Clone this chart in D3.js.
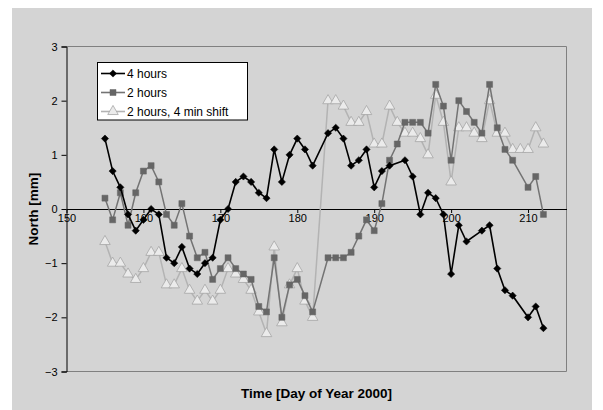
<!DOCTYPE html>
<html>
<head>
<meta charset="utf-8">
<script src="https://cdn.jsdelivr.net/npm/d3@7"></script>
<style>
  html, body { margin: 0; padding: 0; background: #ffffff; }
  svg { display: block; font-family: "Liberation Sans", Arial, sans-serif; }
</style>
</head>
<body>
<svg id="chart" width="603" height="410"></svg>
<script>
// North displacement [mm] per day of year 2000, three processing variants
const days4h = [155,156,157,158,159,160,161,162,163,164,165,166,167,168,169,170,171,172,173,174,175,176,177,178,179,180,181,182,
                184,185,186,187,188,189,190,191,192,194,195,196,197,198,199,200,201,202,204,205,206,207,208,210,211,212];
const north4h = [1.3,0.7,0.4,-0.1,-0.4,-0.2,0.0,-0.1,-0.9,-1.0,-0.7,-1.1,-1.2,-1.0,-0.9,-0.2,0.0,0.5,0.6,0.5,0.3,0.2,1.1,0.5,1.0,1.3,1.1,0.8,
                 1.4,1.5,1.3,0.8,0.9,1.1,0.4,0.7,0.8,0.9,0.6,-0.1,0.3,0.2,-0.1,-1.2,-0.3,-0.6,-0.4,-0.3,-1.1,-1.5,-1.6,-2.0,-1.8,-2.2];

const days2h = [155,156,157,158,159,160,161,162,163,164,165,166,167,168,169,170,171,172,173,174,175,176,177,178,179,180,181,182,
                184,185,186,187,188,189,190,191,192,193,194,195,196,197,198,199,200,201,202,203,204,205,206,207,208,210,211,212];
const north2h = [0.2,-0.2,0.3,-0.3,0.3,0.7,0.8,0.5,-0.1,-0.3,0.1,-0.5,-0.9,-0.8,-1.3,-1.1,-0.9,-1.1,-1.2,-1.3,-1.8,-1.9,-0.9,-2.0,-1.4,-1.3,-1.6,-1.9,
                 -0.9,-0.9,-0.9,-0.8,-0.5,-0.2,-0.4,0.1,0.9,1.2,1.6,1.6,1.6,1.4,2.3,1.9,0.9,2.0,1.8,1.6,1.4,2.3,1.5,1.1,0.9,0.4,0.6,-0.1];

const daysShift = [155,156,157,158,159,160,161,162,163,164,165,166,167,168,169,170,171,172,173,174,175,176,177,178,179,180,181,182,
                   184,185,186,187,188,189,190,191,192,193,194,195,196,197,198,199,200,201,202,203,204,205,206,207,208,209,210,211,212];
const northShift = [-0.6,-1.0,-1.0,-1.2,-1.3,-1.1,-0.8,-0.8,-1.4,-1.4,-1.1,-1.5,-1.7,-1.5,-1.7,-1.5,-1.1,-1.2,-1.3,-1.5,-1.9,-2.3,-0.7,-2.1,-1.4,-1.1,-1.7,-2.0,
                    2.0,2.0,1.9,1.6,1.6,1.8,1.2,1.2,1.9,1.6,1.4,1.4,1.3,1.0,2.1,1.6,0.5,1.5,1.5,1.4,1.3,2.0,1.4,1.4,1.1,1.1,1.1,1.5,1.2];

const seriesNames = ["4 hours", "2 hours", "2 hours, 4 min shift"];
const xTicks = [150,160,170,180,190,200,210];
const yTicks = [-3,-2,-1,0,1,2,3];

const svg = d3.select("#chart");

// chart background
svg.append("rect").attr("x", 12).attr("y", 8).attr("width", 580).attr("height", 402).attr("fill", "#d4d4d4");

const plot = { left: 66.5, right: 566.5, top: 46.5, bottom: 371.5 };
const x = d3.scaleLinear().domain([150, 215]).range([plot.left, plot.right]);
const y = d3.scaleLinear().domain([-3, 3]).range([plot.bottom, plot.top]);

// plot frame (top, right, bottom) in grey
svg.append("path")
  .attr("d", `M${plot.left},${plot.top}H${plot.right}V${plot.bottom}H${plot.left}`)
  .attr("fill", "none").attr("stroke", "#808080").attr("stroke-width", 1);

// y axis
const yAxis = svg.append("g").attr("transform", `translate(${plot.left},0)`)
  .call(d3.axisLeft(y).tickValues(yTicks).tickSize(5).tickFormat(d3.format("d")));
yAxis.select(".domain").attr("stroke", "#000");
yAxis.selectAll(".tick line").attr("stroke", "#000");
yAxis.selectAll(".tick text").attr("font-size", 11).attr("fill", "#000")
  .attr("font-family", "Liberation Sans, Arial, sans-serif").attr("x", -9);

// x axis drawn along the zero line
const xAxis = svg.append("g").attr("transform", `translate(0,${y(0)})`)
  .call(d3.axisBottom(x).tickValues(xTicks).tickSize(4).tickSizeOuter(0));
xAxis.select(".domain").attr("stroke", "#000");
xAxis.selectAll(".tick line").attr("stroke", "#000");
xAxis.selectAll(".tick text").attr("font-size", 11).attr("fill", "#000")
  .attr("font-family", "Liberation Sans, Arial, sans-serif").attr("dy", "0.6em").attr("y", 6);

// axis titles
svg.append("text").attr("x", (plot.left + plot.right) / 2).attr("y", 398)
  .attr("text-anchor", "middle").attr("font-size", 13.5).attr("font-weight", "bold")
  .text("Time [Day of Year 2000]");
svg.append("text").attr("transform", `translate(38,${(plot.top + plot.bottom) / 2}) rotate(-90)`)
  .attr("text-anchor", "middle").attr("font-size", 13.5).attr("font-weight", "bold")
  .text("North [mm]");

const line = d3.line().x(d => x(d[0])).y(d => y(d[1]));

const styles = [
  { line: "#000000", fill: "#000000", stroke: "#000000", marker: "diamond" },
  { line: "#737373", fill: "#666666", stroke: "#666666", marker: "square" },
  { line: "#b3b3b3", fill: "#ebebeb", stroke: "#a6a6a6", marker: "triangle" }
];
const symbolFor = {
  diamond: d3.symbol().type(d3.symbolDiamond2).size(38),
  square: d3.symbol().type(d3.symbolSquare).size(36),
  triangle: d3.symbol().type(d3.symbolTriangle).size(48)
};
const seriesData = [
  d3.zip(days4h, north4h),
  d3.zip(days2h, north2h),
  d3.zip(daysShift, northShift)
];

// draw back to front: shifted series first, 4 hours on top
[2, 1, 0].forEach(i => {
  const st = styles[i];
  const g = svg.append("g");
  g.append("path").datum(seriesData[i]).attr("d", line)
    .attr("fill", "none").attr("stroke", st.line).attr("stroke-width", i === 0 ? 1.6 : 1.5);
  g.selectAll("path.pt").data(seriesData[i]).join("path").attr("class", "pt")
    .attr("transform", d => `translate(${x(d[0])},${y(d[1])})${st.marker === "diamond" ? " rotate(45)" : ""}`)
    .attr("d", st.marker === "diamond" ? d3.symbol().type(d3.symbolSquare).size(26)() : symbolFor[st.marker]())
    .attr("fill", st.fill).attr("stroke", st.stroke).attr("stroke-width", st.marker === "triangle" ? 0.8 : 0.5);
});

// legend
const lg = svg.append("g");
lg.append("rect").attr("x", 97.5).attr("y", 62.5).attr("width", 150).attr("height", 57.5)
  .attr("fill", "#ffffff").attr("stroke", "#000").attr("stroke-width", 1);
seriesNames.forEach((name, i) => {
  const st = styles[i];
  const yy = 73.5 + i * 19;
  lg.append("line").attr("x1", 101).attr("x2", 125).attr("y1", yy).attr("y2", yy)
    .attr("stroke", st.line).attr("stroke-width", 1.6);
  lg.append("path").attr("transform", `translate(113,${yy})${st.marker === "diamond" ? " rotate(45)" : ""}`)
    .attr("d", st.marker === "diamond" ? d3.symbol().type(d3.symbolSquare).size(26)() : symbolFor[st.marker]())
    .attr("fill", st.fill).attr("stroke", st.stroke).attr("stroke-width", st.marker === "triangle" ? 0.8 : 0.5);
  lg.append("text").attr("x", 127).attr("y", yy + 4.5).attr("font-size", 12).attr("fill", "#000").text(name);
});
</script>
</body>
</html>
